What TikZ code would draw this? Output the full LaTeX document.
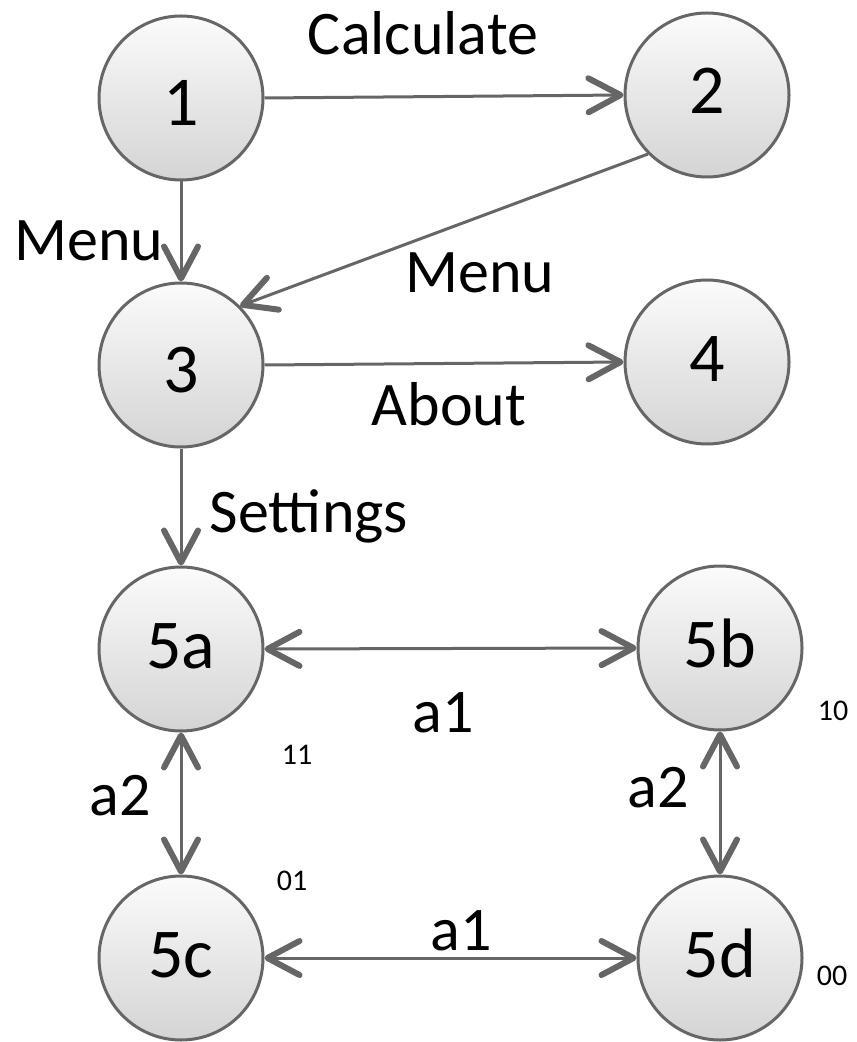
\documentclass[tikz,border=0pt]{standalone}
\usepackage{fontspec}
\setmainfont{Carlito}
\usetikzlibrary{arrows.meta}
\definecolor{edgegray}{HTML}{666666}
\definecolor{fillbottom}{HTML}{D4D4D4}
\definecolor{filltop}{HTML}{FBFBFB}
\tikzset{
  barb/.tip={Straight Barb[length=16pt, width=17pt, line width=3pt, round]},
  state/.style={circle, draw=edgegray, line width=1.5pt, minimum size=82pt, inner sep=0pt,
    top color=filltop, bottom color=fillbottom, font=\fontsize{35}{40}\selectfont,
    text height=22pt, text depth=3pt},
  lowstate/.style={state, text height=28pt, text depth=0pt},
  conn/.style={draw=edgegray, line width=1.5pt, -barb},
  both/.style={draw=edgegray, line width=1.5pt, barb-barb},
  lbl/.style={anchor=base, inner sep=0pt, font=\fontsize{31}{36}\selectfont},
  code/.style={anchor=base, inner sep=0pt, font=\fontsize{15}{18}\selectfont}
}
\begin{document}
\begin{tikzpicture}[x=0.5pt, y=-0.5pt]
\useasboundingbox (0,0) rectangle (856,1042);

% states
\node[lowstate] (n1) at (181,98) {1};
\node[state] (n2) at (707,95) {2};
\node[lowstate] (n3) at (181,365) {3};
\node[state] (n4) at (707,362) {4};
\node[state] (n5a) at (181,649) {5a};
\node[state] (n5b) at (720,648) {5b};
\node[state] (n5c) at (181,958) {5c};
\node[state] (n5d) at (720,958) {5d};

% transitions
\draw[conn] (n1.east) -- (n2.west);
\draw[conn] (n1.south) -- (n3.north);
\draw[conn] (n2.south west) -- (n3.north east);
\draw[conn] (n3.east) -- (n4.west);
\draw[conn] (n3.south) -- (n5a.north);
\draw[both] (n5a.east) -- (n5b.west);
\draw[both] (n5a.south) -- (n5c.north);
\draw[both] (n5b.south) -- (n5d.north);
\draw[both] (n5c.east) -- (n5d.west);

% transition labels
\node[lbl] (tCalc) at (423,55) {Calculate};
\node[lbl] (tMenuA) at (89,261) {Menu};
\node[lbl] (tMenuB) at (480,293) {Menu};
\node[lbl] (tAbout) at (449,425) {About};
\node[lbl] (tSet) at (309,532) {Settings};
\node[lbl] (tA1top) at (443,732) {a1};
\node[lbl] (tA2left) at (120,815) {a2};
\node[lbl] (tA2right) at (658,807) {a2};
\node[lbl] (tA1bot) at (461,950) {a1};

% state codes
\node[code] (c11) at (297,764) {11};
\node[code] (c10) at (833,720) {10};
\node[code] (c01) at (292,890) {01};
\node[code] (c00) at (832,985) {00};
\end{tikzpicture}
\end{document}
